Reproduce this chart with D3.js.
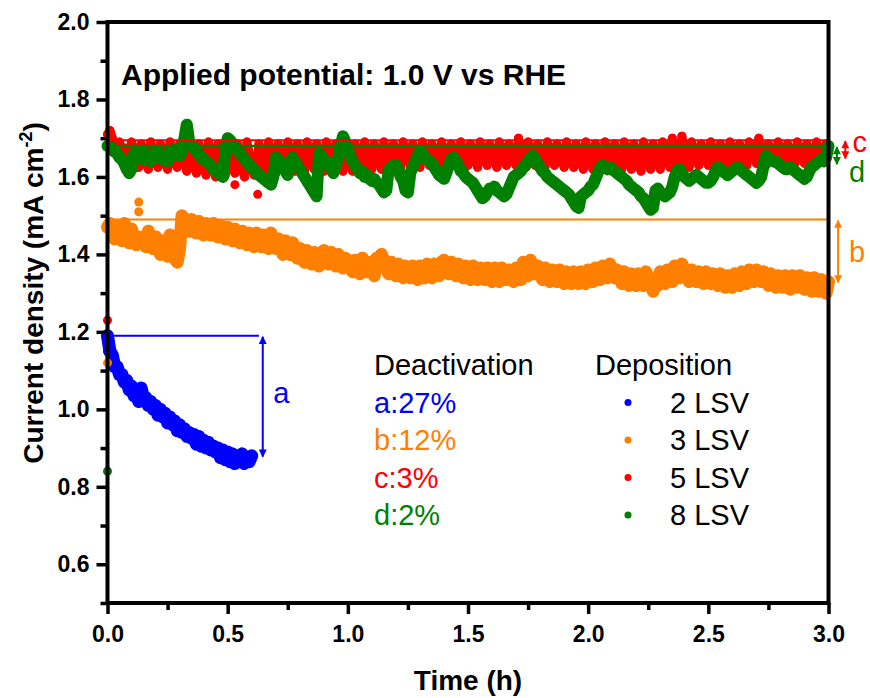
<!DOCTYPE html>
<html>
<head>
<meta charset="utf-8">
<script src="https://cdn.jsdelivr.net/npm/d3@7"></script>
<style>
  body { margin: 0; background: #fff; }
  text { font-family: "Liberation Sans", Arial, sans-serif; }
</style>
</head>
<body>
<div id="viz"></div>
<script>
var W = 870, H = 698;

// one reading every 0.01 h, starting at t = 0
var timeStep = 0.01;

// 2 LSV (0 - 0.6 h)
var lsv2 = [
  1.19, 1.15, 1.14, 1.11, 1.11, 1.09, 1.09, 1.07, 1.075, 1.05,
  1.06, 1.035, 1.05, 1.02, 1.055, 1.03, 1.03, 1.01, 1.02, 1.00,
  1.01, 0.985, 1.00, 0.98, 0.99, 0.965, 0.98, 0.96, 0.97, 0.945,
  0.96, 0.94, 0.95, 0.93, 0.94, 0.925, 0.935, 0.91, 0.93, 0.905,
  0.92, 0.90, 0.915, 0.895, 0.905, 0.89, 0.90, 0.875, 0.895, 0.87,
  0.89, 0.865, 0.885, 0.86, 0.88, 0.865, 0.885, 0.86, 0.875, 0.865, 0.88
];

// 3 LSV (0 - 3 h)
var lsv3 = [
  1.47, 1.48, 1.46, 1.44, 1.475, 1.455, 1.435, 1.48, 1.46, 1.43,
  1.465, 1.445, 1.425, 1.445, 1.43, 1.445, 1.42, 1.46, 1.44, 1.415,
  1.445, 1.42, 1.40, 1.435, 1.415, 1.395, 1.45, 1.41, 1.39, 1.38,
  1.415, 1.50, 1.49, 1.475, 1.46, 1.49, 1.47, 1.455, 1.485, 1.465,
  1.45, 1.48, 1.465, 1.45, 1.48, 1.46, 1.445, 1.475, 1.455, 1.44,
  1.47, 1.45, 1.435, 1.465, 1.445, 1.43, 1.46, 1.44, 1.425, 1.455,
  1.44, 1.42, 1.455, 1.435, 1.42, 1.45, 1.43, 1.415, 1.455, 1.435,
  1.415, 1.44, 1.42, 1.40, 1.435, 1.415, 1.40, 1.43, 1.41, 1.39,
  1.415, 1.395, 1.38, 1.41, 1.39, 1.375, 1.405, 1.385, 1.37, 1.40,
  1.41, 1.39, 1.375, 1.405, 1.385, 1.37, 1.40, 1.38, 1.365, 1.39,
  1.385, 1.37, 1.355, 1.385, 1.365, 1.35, 1.39, 1.37, 1.355, 1.38,
  1.36, 1.345, 1.39, 1.375, 1.40, 1.385, 1.365, 1.35, 1.38, 1.36,
  1.345, 1.375, 1.355, 1.34, 1.37, 1.355, 1.34, 1.37, 1.35, 1.335,
  1.37, 1.355, 1.34, 1.375, 1.355, 1.34, 1.375, 1.36, 1.345, 1.38,
  1.385, 1.365, 1.35, 1.38, 1.36, 1.345, 1.375, 1.355, 1.34, 1.37,
  1.35, 1.335, 1.37, 1.35, 1.335, 1.365, 1.35, 1.335, 1.365, 1.345,
  1.33, 1.365, 1.345, 1.33, 1.365, 1.35, 1.335, 1.36, 1.345, 1.33,
  1.365, 1.35, 1.335, 1.38, 1.36, 1.345, 1.385, 1.365, 1.35, 1.37,
  1.35, 1.335, 1.365, 1.345, 1.33, 1.36, 1.345, 1.33, 1.36, 1.34,
  1.325, 1.355, 1.34, 1.325, 1.355, 1.34, 1.325, 1.355, 1.34, 1.325,
  1.36, 1.345, 1.33, 1.365, 1.35, 1.335, 1.37, 1.355, 1.34, 1.375,
  1.355, 1.34, 1.36, 1.34, 1.325, 1.355, 1.34, 1.32, 1.35, 1.335,
  1.32, 1.35, 1.335, 1.32, 1.355, 1.34, 1.325, 1.305, 1.335, 1.32,
  1.355, 1.34, 1.325, 1.36, 1.345, 1.33, 1.37, 1.355, 1.34, 1.375,
  1.36, 1.345, 1.33, 1.36, 1.345, 1.33, 1.355, 1.34, 1.325, 1.355,
  1.34, 1.325, 1.35, 1.335, 1.32, 1.35, 1.335, 1.315, 1.345, 1.33,
  1.315, 1.35, 1.335, 1.32, 1.355, 1.34, 1.325, 1.36, 1.345, 1.33,
  1.36, 1.345, 1.33, 1.355, 1.34, 1.32, 1.35, 1.335, 1.315, 1.345,
  1.33, 1.315, 1.345, 1.33, 1.31, 1.345, 1.33, 1.315, 1.345, 1.325,
  1.31, 1.34, 1.325, 1.305, 1.34, 1.32, 1.305, 1.335, 1.32, 1.30,
  1.33
];

// 5 LSV (0 - 3 h)
var lsv5 = [
  1.71, 1.72, 1.70, 1.68, 1.665, 1.69, 1.645, 1.675, 1.63, 1.655,
  1.69, 1.665, 1.64, 1.625, 1.685, 1.66, 1.635, 1.62, 1.69, 1.655,
  1.645, 1.625, 1.685, 1.665, 1.64, 1.62, 1.69, 1.66, 1.635, 1.625,
  1.685, 1.665, 1.64, 1.615, 1.69, 1.66, 1.635, 1.61, 1.685, 1.655,
  1.63, 1.605, 1.69, 1.66, 1.635, 1.60, 1.685, 1.655, 1.63, 1.605,
  1.69, 1.66, 1.635, 1.61, 1.685, 1.655, 1.625, 1.60, 1.69, 1.66,
  1.63, 1.605, 1.615, 1.685, 1.655, 1.63, 1.60, 1.69, 1.66, 1.635,
  1.61, 1.685, 1.66, 1.635, 1.61, 1.69, 1.665, 1.64, 1.615, 1.685,
  1.66, 1.635, 1.615, 1.69, 1.665, 1.64, 1.62, 1.685, 1.66, 1.635,
  1.615, 1.69, 1.665, 1.64, 1.62, 1.685, 1.66, 1.635, 1.615, 1.69,
  1.665, 1.64, 1.615, 1.685, 1.66, 1.635, 1.62, 1.69, 1.665, 1.64,
  1.62, 1.685, 1.66, 1.64, 1.62, 1.69, 1.665, 1.645, 1.625, 1.685,
  1.665, 1.645, 1.625, 1.69, 1.665, 1.645, 1.63, 1.685, 1.665, 1.645,
  1.625, 1.69, 1.665, 1.645, 1.63, 1.685, 1.665, 1.645, 1.625, 1.69,
  1.665, 1.645, 1.63, 1.685, 1.665, 1.645, 1.625, 1.69, 1.665, 1.645,
  1.63, 1.685, 1.665, 1.645, 1.625, 1.69, 1.665, 1.645, 1.63, 1.685,
  1.665, 1.645, 1.625, 1.69, 1.665, 1.645, 1.63, 1.685, 1.665, 1.645,
  1.63, 1.70, 1.665, 1.645, 1.625, 1.69, 1.665, 1.645, 1.63, 1.685,
  1.665, 1.645, 1.625, 1.69, 1.665, 1.645, 1.63, 1.685, 1.665, 1.645,
  1.625, 1.69, 1.665, 1.64, 1.625, 1.685, 1.665, 1.64, 1.62, 1.69,
  1.665, 1.64, 1.62, 1.685, 1.66, 1.64, 1.62, 1.69, 1.665, 1.64,
  1.615, 1.685, 1.66, 1.64, 1.62, 1.69, 1.665, 1.64, 1.62, 1.685,
  1.66, 1.64, 1.615, 1.69, 1.665, 1.64, 1.62, 1.685, 1.66, 1.64,
  1.62, 1.69, 1.665, 1.645, 1.625, 1.70, 1.665, 1.645, 1.625, 1.705,
  1.665, 1.645, 1.625, 1.69, 1.665, 1.645, 1.63, 1.685, 1.665, 1.645,
  1.63, 1.69, 1.665, 1.645, 1.63, 1.685, 1.665, 1.645, 1.635, 1.69,
  1.67, 1.65, 1.635, 1.685, 1.665, 1.645, 1.63, 1.69, 1.67, 1.65,
  1.635, 1.70, 1.665, 1.645, 1.63, 1.685, 1.67, 1.65, 1.635, 1.69,
  1.665, 1.645, 1.625, 1.685, 1.665, 1.65, 1.635, 1.69, 1.67, 1.65,
  1.635, 1.685, 1.665, 1.65, 1.64, 1.69, 1.67, 1.65, 1.64, 1.685,
  1.665
];

// 8 LSV (0 - 3 h)
var lsv8 = [
  1.68, 1.68, 1.67, 1.665, 1.66, 1.65, 1.645, 1.635, 1.62, 1.61,
  1.62, 1.66, 1.655, 1.665, 1.65, 1.645, 1.66, 1.65, 1.64, 1.655,
  1.665, 1.65, 1.66, 1.645, 1.655, 1.64, 1.665, 1.655, 1.67, 1.66,
  1.655, 1.665, 1.70, 1.735, 1.69, 1.68, 1.675, 1.665, 1.66, 1.65,
  1.645, 1.64, 1.635, 1.63, 1.62, 1.615, 1.61, 1.605, 1.60, 1.665,
  1.70, 1.695, 1.685, 1.675, 1.67, 1.66, 1.655, 1.645, 1.64, 1.63,
  1.625, 1.62, 1.61, 1.605, 1.60, 1.595, 1.59, 1.585, 1.58, 1.60,
  1.65, 1.645, 1.635, 1.625, 1.615, 1.605, 1.64, 1.65, 1.64, 1.63,
  1.62, 1.61, 1.60, 1.59, 1.58, 1.57, 1.56, 1.55, 1.66, 1.655,
  1.645, 1.64, 1.63, 1.62, 1.61, 1.63, 1.65, 1.68, 1.705, 1.69,
  1.67, 1.655, 1.64, 1.63, 1.62, 1.61, 1.615, 1.60, 1.605, 1.595,
  1.59, 1.595, 1.585, 1.58, 1.57, 1.56, 1.565, 1.62, 1.625, 1.63,
  1.63, 1.62, 1.60, 1.59, 1.565, 1.56, 1.61, 1.625, 1.64, 1.655,
  1.665, 1.66, 1.65, 1.645, 1.64, 1.635, 1.625, 1.615, 1.605, 1.60,
  1.595, 1.61, 1.63, 1.645, 1.65, 1.64, 1.63, 1.615, 1.61, 1.60,
  1.595, 1.59, 1.585, 1.575, 1.565, 1.555, 1.545, 1.55, 1.56, 1.57,
  1.57, 1.575, 1.565, 1.56, 1.555, 1.55, 1.555, 1.57, 1.585, 1.60,
  1.605, 1.61, 1.615, 1.625, 1.63, 1.64, 1.65, 1.655, 1.645, 1.635,
  1.625, 1.615, 1.61, 1.60, 1.595, 1.59, 1.585, 1.58, 1.575, 1.57,
  1.565, 1.56, 1.555, 1.545, 1.535, 1.525, 1.52, 1.55, 1.555, 1.56,
  1.565, 1.575, 1.58, 1.595, 1.61, 1.625, 1.63, 1.625, 1.62, 1.625,
  1.62, 1.615, 1.61, 1.605, 1.60, 1.595, 1.59, 1.58, 1.575, 1.57,
  1.565, 1.56, 1.55, 1.545, 1.535, 1.525, 1.515, 1.52, 1.565, 1.57,
  1.56, 1.555, 1.55, 1.555, 1.56, 1.575, 1.60, 1.615, 1.62, 1.61,
  1.60, 1.595, 1.59, 1.595, 1.60, 1.605, 1.60, 1.595, 1.59, 1.585,
  1.585, 1.59, 1.60, 1.615, 1.625, 1.62, 1.615, 1.61, 1.605, 1.61,
  1.615, 1.62, 1.625, 1.62, 1.615, 1.61, 1.605, 1.60, 1.595, 1.59,
  1.585, 1.59, 1.60, 1.63, 1.655, 1.65, 1.645, 1.64, 1.64, 1.635,
  1.63, 1.625, 1.62, 1.62, 1.625, 1.62, 1.615, 1.61, 1.605, 1.60,
  1.595, 1.60, 1.615, 1.625, 1.63, 1.635, 1.64, 1.645, 1.64, 1.65,
  1.68
];

// isolated readings [time h, current] that sit apart from each trace
var lsv2Stray = [[0, 1.15]];
var lsv3Stray = [[0, 1.12], [0.13, 1.535], [0.13, 1.51], [0.29, 1.38]];
var lsv5Stray = [[0, 1.23], [0.53, 1.58], [0.625, 1.555]];
var lsv8Stray = [[0, 0.84]];

var seriesNames = ["2 LSV", "3 LSV", "5 LSV", "8 LSV"];
var seriesColors = ["#0000ff", "#ff8000", "#ff0000", "#008000"];
var deactLabels = ["a:27%", "b:12%", "c:3%", "d:2%"];
var markLetters = ["a", "b", "c", "d"];
// start value (reference line) and end value of each deactivation arrow
var refTop = [1.19, 1.49, 1.695, 1.68];
var refBottom = [0.875, 1.325, 1.645, 1.63];

var xTicks = [0, 0.5, 1.0, 1.5, 2.0, 2.5, 3.0];
var yTicks = [0.6, 0.8, 1.0, 1.2, 1.4, 1.6, 1.8, 2.0];

var svg = d3.select("#viz").append("svg")
    .attr("width", W)
    .attr("height", H);

var x = d3.scaleLinear().domain([0, 3]).range([107.5, 828.5]);
var y = d3.scaleLinear().domain([0.5, 2.0]).range([603, 22]);

var defs = svg.append("defs");
seriesColors.forEach(function(c, i) {
  defs.append("marker")
      .attr("id", "arr" + i)
      .attr("viewBox", "0 0 10 10")
      .attr("refX", 9).attr("refY", 5)
      .attr("markerUnits", "userSpaceOnUse")
      .attr("markerWidth", 9).attr("markerHeight", 8)
      .attr("orient", "auto-start-reverse")
    .append("path")
      .attr("d", "M0,0 L10,5 L0,10 z")
      .attr("fill", c);
});

// scatter: the readings are so dense that they merge into a band,
// so a fat stroke through them sits under the dots
var dotR = 4.5;
var bandW = [13, 13, 9, 12];
var series = [lsv2, lsv3, lsv5, lsv8];
var strays = [lsv2Stray, lsv3Stray, lsv5Stray, lsv8Stray];
var band = d3.line()
    .x(function(d, j) { return x(j * timeStep); })
    .y(function(d) { return y(d); });

series.forEach(function(vals, i) {
  var g = svg.append("g");
  g.append("path")
      .attr("d", band(vals))
      .attr("fill", "none")
      .attr("stroke", seriesColors[i])
      .attr("stroke-width", bandW[i])
      .attr("stroke-linejoin", "round")
      .attr("stroke-linecap", "round");
  g.selectAll("circle.pt")
      .data(vals)
    .enter().append("circle")
      .attr("class", "pt")
      .attr("cx", function(d, j) { return x(j * timeStep); })
      .attr("cy", function(d) { return y(d); })
      .attr("r", dotR)
      .attr("fill", seriesColors[i]);
  g.selectAll("circle.st")
      .data(strays[i])
    .enter().append("circle")
      .attr("class", "st")
      .attr("cx", function(d) { return x(d[0]); })
      .attr("cy", function(d) { return y(d[1]); })
      .attr("r", dotR)
      .attr("fill", seriesColors[i]);
});

// reference lines + arrows
var lineEnd = [0.63, 3, 3, 3];
var arrowAt = [0.646, 3.04, 3.07, 3.035];
var letterAt = [0.69, 3.085, 3.1, 3.085];
var letterDy = [6, 11, 2, 26];
refTop.forEach(function(v, i) {
  svg.append("line")
      .attr("x1", x(0)).attr("x2", x(lineEnd[i]))
      .attr("y1", y(v)).attr("y2", y(v))
      .attr("stroke", seriesColors[i])
      .attr("stroke-width", i == 3 ? 2.5 : 2);
  svg.append("line")
      .attr("x1", x(arrowAt[i])).attr("x2", x(arrowAt[i]))
      .attr("y1", y(v) + 1).attr("y2", y(refBottom[i]) - 1)
      .attr("stroke", seriesColors[i])
      .attr("stroke-width", 2)
      .attr("marker-start", "url(#arr" + i + ")")
      .attr("marker-end", "url(#arr" + i + ")");
  svg.append("text")
      .attr("x", x(letterAt[i]))
      .attr("y", (y(v) + y(refBottom[i])) / 2 + letterDy[i])
      .attr("font-size", 29)
      .attr("fill", seriesColors[i])
      .text(markLetters[i]);
});

// frame
svg.append("rect")
    .attr("x", x(0)).attr("y", y(2.0))
    .attr("width", x(3) - x(0)).attr("height", y(0.5) - y(2.0))
    .attr("fill", "none")
    .attr("stroke", "#000")
    .attr("stroke-width", 4);

// axes
var xAxis = svg.append("g")
    .attr("transform", "translate(0," + y(0.5) + ")")
    .call(d3.axisBottom(x).tickValues(xTicks).tickSize(11).tickFormat(d3.format(".1f")));
svg.append("g")
    .attr("transform", "translate(0," + y(0.5) + ")")
    .call(d3.axisBottom(x).tickValues([0.25, 0.75, 1.25, 1.75, 2.25, 2.75]).tickSize(7).tickFormat(""));
var yAxis = svg.append("g")
    .attr("transform", "translate(" + x(0) + ",0)")
    .call(d3.axisLeft(y).tickValues(yTicks).tickSize(11).tickFormat(d3.format(".1f")));
svg.append("g")
    .attr("transform", "translate(" + x(0) + ",0)")
    .call(d3.axisLeft(y).tickValues([0.5, 0.7, 0.9, 1.1, 1.3, 1.5, 1.7, 1.9]).tickSize(7).tickFormat(""));

svg.selectAll(".domain").remove();
svg.selectAll(".tick line")
    .attr("stroke", "#000")
    .style("stroke-width", "3.5px");
svg.selectAll(".tick text")
    .attr("fill", "#000")
    .style("font-family", '"Liberation Sans", Arial, sans-serif')
    .style("font-size", "23px")
    .style("font-weight", "bold");
xAxis.selectAll(".tick text").attr("dy", 0).attr("y", 39);
yAxis.selectAll(".tick text").attr("x", -18);

// axis titles
svg.append("text")
    .attr("x", 468).attr("y", 690)
    .attr("text-anchor", "middle")
    .attr("font-size", 28).attr("font-weight", "bold")
    .text("Time (h)");

var yt = svg.append("text")
    .attr("transform", "translate(43,293) rotate(-90)")
    .attr("text-anchor", "middle")
    .attr("font-size", 28).attr("font-weight", "bold");
yt.append("tspan").text("Current density (mA cm");
yt.append("tspan").attr("dy", -11).attr("font-size", 18).text("-2");
yt.append("tspan").attr("dy", 11).text(")");

svg.append("text")
    .attr("x", 121).attr("y", 85)
    .attr("font-size", 30).attr("font-weight", "bold")
    .text("Applied potential: 1.0 V vs RHE");

// legends
svg.append("text")
    .attr("x", 374).attr("y", 375)
    .attr("font-size", 29)
    .text("Deactivation");
svg.append("text")
    .attr("x", 595).attr("y", 375)
    .attr("font-size", 29)
    .text("Deposition");

deactLabels.forEach(function(t, i) {
  var by = 412.5 + i * 37.5;
  svg.append("text")
      .attr("x", 374).attr("y", by)
      .attr("font-size", 29)
      .attr("fill", seriesColors[i])
      .text(t);
  svg.append("circle")
      .attr("cx", 628).attr("cy", by - 10)
      .attr("r", 3.5)
      .attr("fill", seriesColors[i]);
  svg.append("text")
      .attr("x", 670).attr("y", by)
      .attr("font-size", 29)
      .text(seriesNames[i]);
});
</script>
</body>
</html>
